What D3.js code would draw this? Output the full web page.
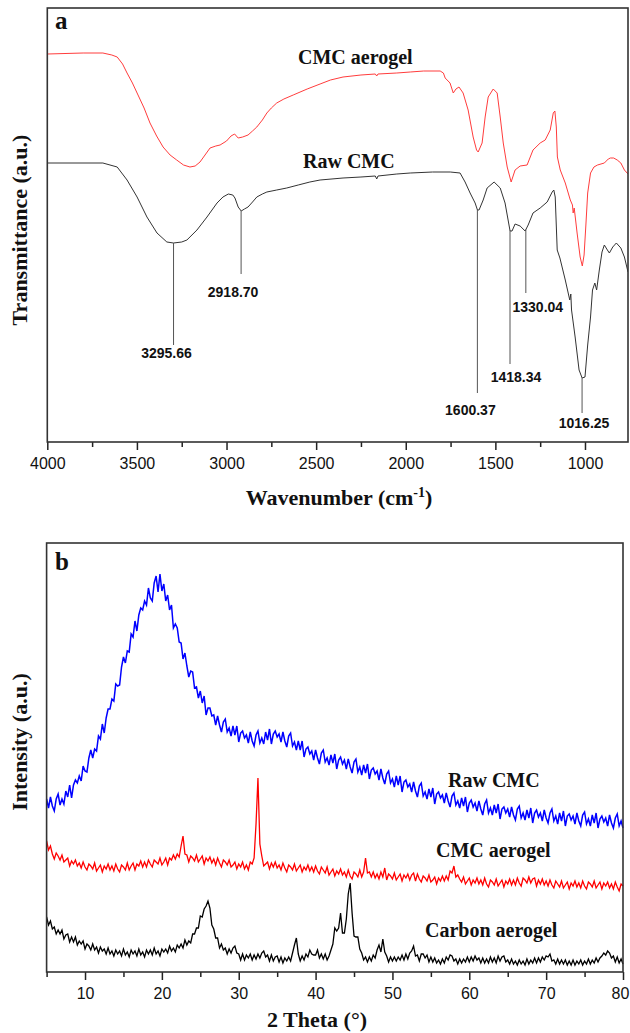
<!DOCTYPE html>
<html lang="en">
<head>
<meta charset="UTF-8">
<title>FTIR and XRD of CMC, CMC aerogel and carbon aerogel</title>
<style>
  body { margin: 0; background: #fff; }
  svg { display: block; }
  .axis line { stroke: #222; stroke-width: 1.5; }
  .axis text { font-family: "Liberation Sans", Arial, sans-serif; font-size: 16px; fill: #111; }
  .frame { fill: none; stroke: #333; stroke-width: 1.6; }
  .serif { font-family: "Liberation Serif", "Times New Roman", serif; font-weight: bold; fill: #111; }
  .peak { font-family: "Liberation Sans", Arial, sans-serif; font-weight: bold; font-size: 14px; fill: #111; }
</style>
</head>
<body>
<svg id="chart" width="630" height="1033"></svg>
<script src="https://cdn.jsdelivr.net/npm/d3@7"></script>
<script>
// ---- panel a: FTIR (wavenumber in cm-1, transmittance in a.u.)
const aerogelWn = [4000, 3800, 3690, 3640, 3610, 3580, 3555, 3525, 3499, 3460, 3427, 3390, 3354, 3315, 3278,
  3240, 3204, 3175, 3148, 3120, 3092, 3060, 3036, 3000, 2975, 2955, 2935, 2910, 2880, 2855, 2831, 2800, 2775,
  2750, 2720, 2680, 2628, 2550, 2478, 2420, 2350, 2250, 2170, 2162, 2155, 2050, 1975, 1900, 1808, 1790, 1780,
  1753, 1735, 1720, 1703, 1680, 1652, 1624, 1605, 1596, 1574, 1557, 1540, 1512, 1490, 1473, 1456, 1434, 1412,
  1390, 1362, 1323, 1290, 1250, 1222, 1194, 1177, 1168, 1160, 1154, 1138, 1110, 1082, 1070, 1066, 1060, 1044,
  1027, 1015, 1005, 995, 985, 969, 950, 930, 892, 870, 858, 840, 820, 800, 780, 760];
const aerogelT = [388, 389, 389, 387, 385, 378, 369, 359, 349, 334, 319, 306, 295, 287, 282,
  277, 275, 276, 280, 287, 294, 296, 297, 301, 306, 308, 304, 305, 307, 311, 315, 322, 329,
  334, 339, 343, 347, 353, 358, 362, 365, 367, 368, 366, 368, 369, 370, 371, 371, 369, 364,
  359, 349, 353, 355, 349, 332, 305, 292, 290, 299, 325, 345, 353, 349, 325, 299, 275, 260,
  272, 276, 277, 292, 299, 302, 312, 329, 331, 315, 285, 272, 259, 242, 237, 229, 234, 209,
  185, 176, 187, 217, 249, 269, 275, 277, 279, 283, 284, 284, 282, 279, 272, 268];

const rawWn = [4000, 3690, 3610, 3555, 3499, 3444, 3388, 3333, 3296, 3250, 3221, 3165, 3109, 3053, 3020,
  2990, 2965, 2953, 2935, 2918, 2900, 2880, 2855, 2831, 2800, 2775, 2720, 2664, 2600, 2535, 2478, 2350,
  2250, 2170, 2162, 2155, 2050, 1975, 1850, 1752, 1697, 1669, 1641, 1613, 1600, 1591, 1568, 1546, 1507,
  1473, 1446, 1429, 1418, 1407, 1390, 1362, 1334, 1317, 1290, 1250, 1211, 1183, 1174, 1166, 1155, 1140,
  1110, 1085, 1079, 1075, 1055, 1033, 1016, 1000, 985, 969, 958, 945, 935, 920, 905, 892, 875, 864, 845,
  825, 800, 780, 760];
const rawT = [279, 279, 275, 262, 245, 225, 209, 200, 199, 200, 202, 212, 225, 239, 245,
  248, 247, 244, 235, 231, 233, 235, 240, 245, 248, 250, 252, 254, 257, 260, 262, 264,
  265, 266, 263, 266, 268, 269, 270, 270, 269, 260, 249, 239, 232, 232, 242, 254, 260,
  254, 239, 222, 211, 211, 218, 216, 211, 217, 229, 234, 240, 250, 252, 245, 192, 184,
  162, 142, 148, 132, 105, 72, 64, 65, 97, 125, 152, 159, 152, 172, 190, 197, 192, 189, 195,
  199, 194, 185, 170];

const peakWn = [3295.66, 2918.70, 1600.37, 1418.34, 1330.04, 1016.25];
const peakLabels = ['3295.66', '2918.70', '1600.37', '1418.34', '1330.04', '1016.25'];

const wnMajor = [4000, 3500, 3000, 2500, 2000, 1500, 1000];
const wnMinor = [3750, 3250, 2750, 2250, 1750, 1250];

// ---- panel b: XRD, one value every 0.25 deg from 5 to 80 (one row per degree)
const thetaStart = 5, thetaStep = 0.25;
const rawCmcXrd = [
  173, 164, 175, 166, 161, 173, 178, 167, 173, 168, 181, 175, 187, 174, 187, 192,
  189, 196, 191, 206, 201, 200, 214, 222, 214, 223, 221, 236, 233, 248, 239, 254,
  263, 263, 273, 271, 288, 286, 287, 305, 315, 309, 321, 320, 338, 335, 351, 341,
  357, 364, 362, 371, 367, 384, 374, 371, 389, 396, 380, 398, 381, 388, 371, 377,
  362, 367, 344, 348, 344, 330, 329, 313, 319, 306, 295, 301, 300, 284, 285, 274,
  281, 269, 276, 257, 264, 264, 256, 257, 247, 256, 247, 240, 250, 253, 240, 244,
  236, 246, 237, 246, 230, 239, 241, 234, 237, 229, 240, 231, 226, 237, 241, 229,
  234, 228, 240, 232, 243, 228, 238, 241, 235, 238, 230, 240, 231, 225, 236, 239,
  226, 230, 222, 231, 222, 231, 215, 223, 225, 218, 221, 212, 222, 214, 208, 219,
  222, 210, 214, 207, 217, 209, 218, 203, 212, 215, 208, 212, 203, 213, 205, 199,
  210, 213, 200, 205, 197, 207, 199, 208, 193, 202, 204, 198, 201, 192, 203, 194,
  188, 198, 201, 189, 193, 185, 196, 187, 196, 180, 190, 192, 185, 188, 180, 190,
  181, 175, 186, 189, 176, 180, 173, 183, 175, 184, 168, 178, 180, 174, 177, 169,
  179, 171, 165, 176, 179, 167, 171, 164, 174, 166, 175, 160, 169, 172, 165, 169,
  161, 171, 163, 157, 168, 172, 159, 164, 157, 167, 159, 168, 153, 163, 165, 159,
  163, 155, 165, 157, 152, 163, 166, 154, 159, 152, 162, 154, 164, 149, 159, 162,
  155, 159, 151, 162, 154, 149, 159, 163, 151, 156, 148, 159, 151, 161, 146, 156,
  158, 152, 156, 148, 159, 151, 146, 157, 160, 148, 153, 146, 157, 149, 159, 144,
  153, 156, 150, 154, 146, 157, 149, 144, 154, 158, 146, 151, 144];
const cmcAerogelXrd = [
  131, 122, 126, 118, 113, 119, 116, 112, 117, 110, 112, 114, 106, 111, 108, 112,
  106, 109, 104, 110, 105, 102, 108, 106, 103, 109, 101, 104, 107, 100, 106, 103,
  108, 102, 106, 101, 108, 103, 100, 107, 105, 102, 109, 102, 106, 109, 102, 108,
  106, 111, 105, 110, 105, 112, 108, 105, 112, 110, 108, 114, 107, 110, 114, 107,
  114, 112, 117, 113, 118, 115, 126, 136, 118, 117, 110, 116, 114, 111, 117, 110,
  113, 116, 108, 114, 111, 115, 109, 113, 107, 114, 109, 105, 112, 110, 107, 112,
  105, 107, 110, 103, 108, 105, 110, 103, 107, 102, 110, 108, 114, 148, 194, 128,
  116, 106, 108, 110, 103, 109, 105, 110, 104, 107, 102, 109, 104, 100, 107, 105,
  102, 108, 101, 104, 107, 100, 105, 102, 107, 101, 105, 100, 106, 101, 98, 105,
  102, 99, 105, 97, 100, 103, 96, 101, 98, 103, 97, 100, 95, 102, 96, 93,
  100, 98, 95, 102, 95, 100, 114, 99, 100, 95, 100, 94, 98, 93, 100, 95,
  104, 92, 98, 96, 93, 99, 92, 95, 98, 91, 97, 94, 98, 92, 97, 99,
  91, 98, 93, 90, 96, 94, 91, 97, 90, 92, 95, 88, 94, 91, 96, 91,
  96, 92, 101, 99, 106, 95, 97, 93, 90, 95, 88, 91, 94, 87, 92, 89,
  94, 88, 92, 87, 94, 88, 85, 92, 90, 87, 93, 86, 89, 92, 85, 91,
  88, 93, 87, 92, 87, 94, 89, 86, 94, 92, 89, 95, 89, 93, 94, 86,
  92, 88, 93, 87, 91, 86, 92, 87, 84, 91, 88, 85, 91, 84, 87, 90,
  83, 89, 86, 91, 85, 89, 84, 91, 86, 83, 90, 88, 85, 91, 84, 87,
  90, 83, 89, 86, 90, 84, 88, 83, 90, 85, 81, 88, 86];
const carbonAerogelXrd = [
  55, 47, 51, 43, 45, 38, 42, 38, 42, 33, 37, 38, 30, 35, 30, 35,
  27, 31, 28, 31, 23, 28, 26, 22, 28, 22, 25, 19, 25, 21, 23, 18,
  24, 18, 21, 16, 22, 18, 21, 16, 23, 17, 20, 15, 22, 18, 21, 16,
  23, 17, 20, 15, 22, 18, 22, 17, 24, 18, 21, 16, 23, 20, 23, 19,
  26, 21, 24, 20, 27, 24, 28, 24, 32, 27, 31, 29, 38, 38, 44, 44,
  56, 55, 63, 66, 71, 64, 47, 43, 34, 34, 24, 28, 22, 24, 18, 23,
  19, 24, 26, 19, 18, 12, 18, 12, 17, 14, 18, 12, 17, 13, 18, 14,
  19, 21, 15, 17, 11, 17, 11, 15, 16, 10, 15, 9, 14, 11, 15, 11,
  19, 27, 34, 18, 11, 16, 12, 18, 15, 22, 18, 17, 17, 22, 14, 18,
  13, 18, 12, 16, 22, 28, 44, 41, 44, 59, 39, 39, 53, 78, 89, 59,
  36, 35, 35, 23, 19, 12, 15, 10, 15, 11, 17, 14, 22, 27, 20, 33,
  20, 16, 10, 15, 11, 15, 11, 15, 12, 17, 12, 18, 13, 19, 21, 26,
  16, 17, 11, 18, 18, 14, 17, 10, 15, 10, 14, 9, 12, 8, 13, 9,
  15, 12, 17, 16, 11, 13, 8, 13, 9, 13, 10, 15, 10, 15, 11, 16,
  12, 14, 9, 14, 9, 13, 9, 15, 10, 14, 9, 16, 11, 15, 16, 10,
  12, 8, 13, 8, 11, 7, 12, 8, 11, 7, 13, 8, 12, 9, 14, 9,
  14, 10, 15, 12, 16, 15, 18, 11, 12, 8, 13, 8, 12, 8, 12, 7,
  11, 7, 12, 7, 11, 8, 12, 7, 11, 8, 13, 8, 12, 9, 14, 10,
  14, 16, 19, 17, 21, 19, 14, 16, 10, 15, 9, 13, 8];

const thetaMajor = [10, 20, 30, 40, 50, 60, 70, 80];
const thetaMinor = [5, 15, 25, 35, 45, 55, 65, 75];

// ---- layout
const svg = d3.select('#chart');
const pa = { left: 47.3, right: 628, top: 8, bottom: 442 };
const pb = { left: 46.6, right: 623, top: 543, bottom: 972 };

const xA = d3.scaleLinear([4000, 760], [pa.left, pa.right]);
const yA = d3.scaleLinear([0, 434], [pa.bottom, pa.top]);
const xB = d3.scaleLinear([5, 80], [pb.left, pb.right]);
const yB = d3.scaleLinear([0, 429], [pb.bottom, pb.top]);

function drawAxis(scale, major, minor, y) {
    const g = svg.append('g').attr('class', 'axis').attr('transform', `translate(0,${y})`);
    g.append('g')
        .call(d3.axisBottom(scale).tickValues(minor).tickSize(5).tickFormat(''))
        .call(s => s.select('.domain').remove());
    const majorG = g.append('g')
        .call(d3.axisBottom(scale).tickValues(major).tickSize(8).tickPadding(7.5).tickFormat(d3.format('d')))
        .call(s => s.select('.domain').remove());
    // keep a label that sits on the right border inside the page
    majorG.selectAll('.tick text')
        .attr('dx', function () {
            const box = this.getBBox();
            const right = scale(d3.select(this.parentNode).datum()) + box.x + box.width;
            return right > 629 ? (629 - right) : 0;
        });
}

function drawFrame(p) {
    svg.append('rect').attr('class', 'frame')
        .attr('x', p.left).attr('y', p.top)
        .attr('width', p.right - p.left).attr('height', p.bottom - p.top);
}

function serifText(x, y, str, size, anchor) {
    return svg.append('text').attr('class', 'serif')
        .attr('x', x).attr('y', y)
        .attr('font-size', size)
        .attr('text-anchor', anchor || 'start')
        .text(str);
}

// ---- panel a
svg.append('clipPath').attr('id', 'clipA').append('rect')
    .attr('x', pa.left).attr('y', pa.top).attr('width', pa.right - pa.left).attr('height', pa.bottom - pa.top);

const lineA = d3.line().x(d => xA(d[0])).y(d => yA(d[1]));

svg.append('path')
    .datum(d3.zip(aerogelWn, aerogelT))
    .attr('d', lineA)
    .attr('clip-path', 'url(#clipA)')
    .attr('fill', 'none').attr('stroke', '#ff3c3c').attr('stroke-width', 1);

svg.append('path')
    .datum(d3.zip(rawWn, rawT))
    .attr('d', lineA)
    .attr('clip-path', 'url(#clipA)')
    .attr('fill', 'none').attr('stroke', '#333').attr('stroke-width', 1);

// drop lines from raw CMC bands
function rawAt(w) {
    for (let i = 0; i < rawWn.length - 1; i++) {
        if (w <= rawWn[i] && w >= rawWn[i + 1]) {
            const t = (rawWn[i] - w) / (rawWn[i] - rawWn[i + 1]);
            return rawT[i] + t * (rawT[i + 1] - rawT[i]);
        }
    }
    return rawT[rawT.length - 1];
}
// where each drop line stops and where its label sits (a.u.), plus label shift in px
const peakLayout = [
    { end: 97, label: 89, dx: -7 },
    { end: 168, label: 150, dx: -8 },
    { end: 49, label: 32, dx: -7 },
    { end: 78, label: 65, dx: 6 },
    { end: 149, label: 135, dx: 12 },
    { end: 29, label: 19, dx: 2 }
];
peakWn.forEach((w, i) => {
    const lay = peakLayout[i];
    svg.append('line')
        .attr('x1', xA(w)).attr('x2', xA(w))
        .attr('y1', yA(rawAt(w))).attr('y2', yA(lay.end))
        .attr('stroke', '#555').attr('stroke-width', 1);
    svg.append('text').attr('class', 'peak')
        .attr('x', xA(w) + lay.dx).attr('y', yA(lay.label) + 5)
        .attr('text-anchor', 'middle')
        .text(peakLabels[i]);
});

drawAxis(xA, wnMajor, wnMinor, pa.bottom);
drawFrame(pa);

serifText(55, 29, 'a', 25);
serifText(298, 64, 'CMC aerogel', 20);
serifText(303, 168, 'Raw CMC', 20);

svg.append('text').attr('class', 'serif')
    .attr('font-size', 22).attr('text-anchor', 'middle')
    .attr('transform', 'translate(27,230) rotate(-90)')
    .text('Transmittance (a.u.)');

const wnTitle = serifText(339, 505, 'Wavenumber (cm', 22, 'middle');
wnTitle.append('tspan').attr('font-size', 14).attr('dy', -8).text('-1');
wnTitle.append('tspan').attr('dy', 8).text(')');

// ---- panel b
const thetaOf = i => thetaStart + i * thetaStep;
const lineB = d3.line().x((d, i) => xB(thetaOf(i))).y(d => yB(d));

const xrdSeries = [
    { values: rawCmcXrd, color: '#0000ff', width: 1.5 },
    { values: cmcAerogelXrd, color: '#ff0000', width: 1.3 },
    { values: carbonAerogelXrd, color: '#000000', width: 1.3 }
];
xrdSeries.forEach(s => {
    svg.append('path')
        .datum(s.values)
        .attr('d', lineB)
        .attr('fill', 'none')
        .attr('stroke', s.color)
        .attr('stroke-width', s.width)
        .attr('stroke-linejoin', 'miter');
});

drawAxis(xB, thetaMajor, thetaMinor, pb.bottom);
drawFrame(pb);

serifText(55, 570, 'b', 25);
serifText(448, 787, 'Raw CMC', 20);
serifText(436, 857, 'CMC aerogel', 20);
serifText(425, 937, 'Carbon aerogel', 20);

svg.append('text').attr('class', 'serif')
    .attr('font-size', 22).attr('text-anchor', 'middle')
    .attr('transform', 'translate(27,742) rotate(-90)')
    .text('Intensity (a.u.)');

serifText(317, 1027, '2 Theta (\u00b0)', 22, 'middle');
</script>
</body>
</html>
